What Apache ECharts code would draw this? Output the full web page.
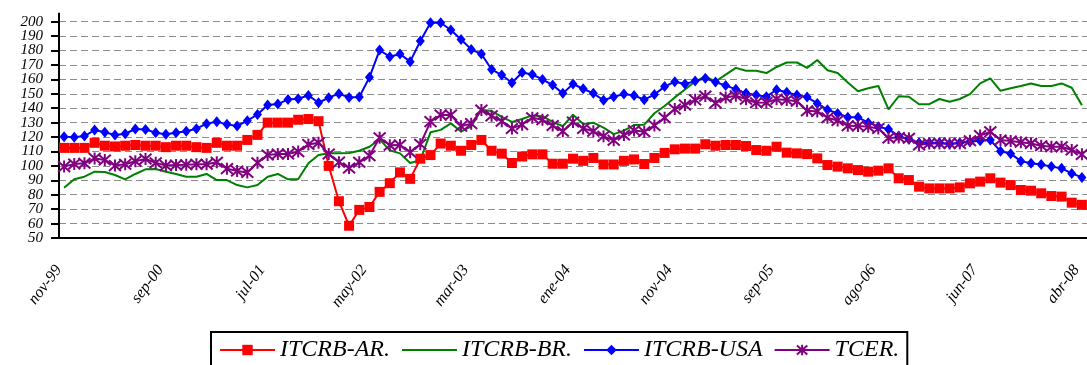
<!DOCTYPE html>
<html>
<head>
<meta charset="utf-8">
<script src="https://cdn.jsdelivr.net/npm/echarts@6/dist/echarts.min.js"></script>
<style>
  html, body { margin: 0; padding: 0; background: #ffffff; }
  #chart { width: 1087px; height: 365px; }
</style>
</head>
<body>
<div id="chart"></div>
<script>
// Monthly categories (jul-06 is absent from the series)
const months = [
  'nov-99','dic-99','ene-00','feb-00','mar-00','abr-00','may-00','jun-00','jul-00','ago-00',
  'sep-00','oct-00','nov-00','dic-00','ene-01','feb-01','mar-01','abr-01','may-01','jun-01',
  'jul-01','ago-01','sep-01','oct-01','nov-01','dic-01','ene-02','feb-02','mar-02','abr-02',
  'may-02','jun-02','jul-02','ago-02','sep-02','oct-02','nov-02','dic-02','ene-03','feb-03',
  'mar-03','abr-03','may-03','jun-03','jul-03','ago-03','sep-03','oct-03','nov-03','dic-03',
  'ene-04','feb-04','mar-04','abr-04','may-04','jun-04','jul-04','ago-04','sep-04','oct-04',
  'nov-04','dic-04','ene-05','feb-05','mar-05','abr-05','may-05','jun-05','jul-05','ago-05',
  'sep-05','oct-05','nov-05','dic-05','ene-06','feb-06','mar-06','abr-06','may-06','jun-06',
  'ago-06','sep-06','oct-06','nov-06','dic-06','ene-07','feb-07','mar-07','abr-07','may-07',
  'jun-07','jul-07','ago-07','sep-07','oct-07','nov-07','dic-07','ene-08','feb-08','mar-08',
  'abr-08'
];

// Value-axis tick labels
const yTicks = [50, 60, 70, 80, 90, 100, 110, 120, 130, 140, 150, 160, 170, 180, 190, 200];

const itcrbAR = [
  112.5,112.5,112.5,116,114,113.5,114,114.5,114,114,
  113,114,114,113,112.5,116,114,114,118,121.5,
  130,130,130,132,132.5,131,100,75.5,58.5,69.5,
  71.5,82,88,95.5,91,105,107.5,115.5,114,110.5,
  114.5,118,110.5,108.5,102,106.5,108,108,101.5,101.5,
  105,103.5,105.5,101,101,103.5,104.5,101.3,105.5,109,
  111.5,112,112,115,114,114.5,114.5,113.8,111,110.5,
  113.3,109.2,108.7,108.2,105.2,100.6,99.5,98.3,97.1,96,
  96.7,98.3,91.4,90.2,85.6,84.4,84.4,84.4,85.1,87.9,
  89.1,91.4,88.4,86.7,83.3,82.8,81,79.1,78.7,74.5,
  73
];

const itcrbBR = [
  84.9,90.7,92.5,96,95.8,93.7,90.7,94.4,97.6,97.8,
  96,94.4,92.5,92.5,94.4,90.2,90.2,86.7,85.1,86.7,
  92.5,94.4,90.7,90.7,101.8,107.5,108.7,108.7,109,110.5,
  113.3,118.4,110.8,108.7,102,104,123.3,125,129.5,123.8,
  127.5,139,138,134,130.5,132.5,135,134.5,130.5,127.5,
  135.5,129,130,126.5,122,124.4,128.3,128.6,136.5,141.5,
  147.5,153,158.5,162,158.5,163.3,168,166,166,164.4,
  168.6,171.7,171.7,168,173.4,166.3,164.4,157.8,151.8,153.8,
  155.4,139.2,148.3,148,142.8,142.8,146.4,144.5,146.4,149.8,
  157.2,160.7,152.1,153.8,155.4,157.2,155.4,155.4,157.2,154.2,
  142
];

const itcrbUSA = [
  120.3,119.8,120.7,124.9,123.3,121.4,122.3,125.6,125.3,123,
  121.9,123,124,125.8,129.3,130.7,128.8,127.7,131.3,135.7,
  142.2,142.9,146.1,146.6,148.9,143.8,147.3,150.1,147.4,147.8,
  161.4,180.3,175.7,177.6,172.3,186.6,199.3,199.3,194.2,187.7,
  180.8,177.6,166.9,163,157.7,164.8,163.4,160,156.1,150.3,
  156.8,153.5,150.3,145.5,148,149.8,148.9,145.9,149.5,155,
  158.4,156.8,158.8,160.8,158.1,155.8,153.1,150.3,149.1,148,
  152.8,151.1,149.1,147.7,143.3,138.9,136.4,133.7,133.7,130,
  127.2,125.5,120.7,118.4,116.1,116.1,116.1,115.2,116.1,116.8,
  117.5,117.9,110.2,108.5,103.3,101.8,101,99.5,98.3,94.8,
  92
];

const tcer = [
  99.5,101.3,101.8,105.2,104.1,100.2,101.1,103.2,104.8,102.2,
  100.2,100.6,100.8,101.1,101.1,102.5,98.1,96.5,95.5,102.2,
  107.5,108.2,108.2,109.9,114.9,116.1,108.2,102.6,98.6,102.5,
  107,119.5,114.3,114.5,109.5,115,130.7,135.3,135.3,127.5,
  129.3,138.8,134.7,131,126,128.6,133.4,132,128,124,
  130.4,126,124,120.5,117.8,121.4,124.6,123.7,128,133.4,
  139.4,142.2,145.8,148.4,143.6,147.4,148.6,146.3,143.8,144,
  146.3,145.7,144.8,138.2,137.8,133.4,131.5,127.8,127.7,127.2,
  126,119.4,119.7,119.2,114.5,115.5,115.6,115.6,115.5,117.5,
  121,123.7,118,117.2,116.4,115.6,114,113.3,113.3,111,
  108
];

const Y_MIN = 50, Y_MAX = 200, Y_STEP = 10;

const GRID_LEFT = 59;
const SERIF = "'Liberation Serif', 'Times New Roman', serif";
const STAR = 'path://M5,0L5,10M0.6,0.6L9.4,9.4M9.4,0.6L0.6,9.4';

const chart = echarts.init(document.getElementById('chart'), null, { renderer: 'canvas' });

function lineSeries(name, data, color, symbol, symbolSize, extraItem) {
  return {
    name: name,
    type: 'line',
    data: data,
    symbol: symbol,
    symbolSize: symbolSize,
    showAllSymbol: true,
    smooth: false,
    lineStyle: { color: color, width: 2 },
    itemStyle: Object.assign({ color: color }, extraItem || {}),
    emphasis: { disabled: true },
    animation: false
  };
}

// Tick labels of the value axis, placed through the axis scale so that
// every one of them stays visible even though they sit very close together
const yLabelSeries = {
  type: 'custom',
  name: 'yTickLabels',
  data: yTicks.map(function (v) { return [0, v]; }),
  encode: { x: 0, y: 1 },
  clip: false,
  silent: true,
  z: 5,
  animation: false,
  renderItem: function (params, api) {
    const p = api.coord([0, api.value(1)]);
    return {
      type: 'text',
      x: GRID_LEFT - 16,
      y: p[1],
      style: {
        text: String(api.value(1)),
        align: 'right',
        verticalAlign: 'middle',
        font: 'italic 15px ' + SERIF,
        fill: '#000000'
      }
    };
  }
};

chart.setOption({
  animation: false,
  backgroundColor: '#ffffff',
  grid: { left: GRID_LEFT, top: 21.7, width: months.length * 10.295, bottom: 127, containLabel: false },
  legend: {
    left: 211,
    top: 332,
    padding: [6, 8, 8, 8],
    itemGap: 11,
    itemWidth: 55,
    itemHeight: 13,
    borderColor: '#000000',
    borderWidth: 2,
    backgroundColor: '#ffffff',
    textStyle: { fontFamily: SERIF, fontStyle: 'italic', fontSize: 24, color: '#000000' },
    data: [
      'ITCRB-AR.',
      { name: 'ITCRB-BR.', itemStyle: { opacity: 0 } },
      'ITCRB-USA',
      'TCER.'
    ]
  },
  xAxis: {
    type: 'category',
    data: months,
    boundaryGap: true,
    axisLine: { lineStyle: { color: '#000000', width: 2 } },
    axisTick: { interval: 21, length: 9, lineStyle: { color: '#000000', width: 2 } },
    axisLabel: {
      interval: 9,
      rotate: 53,
      margin: 22,
      padding: [0, 9, 0, 0],
      color: '#000000',
      fontFamily: SERIF,
      fontStyle: 'italic',
      fontSize: 16
    },
    splitLine: { show: false }
  },
  yAxis: {
    type: 'value',
    min: Y_MIN,
    max: Y_MAX,
    interval: Y_STEP,
    axisLine: { show: true, lineStyle: { color: '#000000', width: 2 } },
    axisTick: { show: true, length: 8, lineStyle: { color: '#000000', width: 2 } },
    axisLabel: { show: false },
    splitLine: {
      show: true,
      showMinLine: true,
      showMaxLine: true,
      lineStyle: { color: '#8c8c8c', width: 1, type: [7, 4] }
    }
  },
  series: [
    lineSeries('ITCRB-AR.', itcrbAR, '#ff0000', 'rect', 10),
    lineSeries('ITCRB-BR.', itcrbBR, '#008000', 'none', 0),
    lineSeries('ITCRB-USA', itcrbUSA, '#0000ff', 'diamond', [9, 11]),
    lineSeries('TCER.', tcer, '#800080', STAR, 12, { borderColor: '#800080', borderWidth: 2 }),
    yLabelSeries
  ]
});

// The value axis line runs a little past its top tick
const yTop = chart.convertToPixel({ yAxisIndex: 0 }, Y_MAX);
chart.setOption({
  graphic: [{
    type: 'line',
    shape: { x1: GRID_LEFT, y1: yTop - 9, x2: GRID_LEFT, y2: yTop },
    style: { stroke: '#000000', lineWidth: 2 },
    silent: true
  }]
});
</script>
</body>
</html>
